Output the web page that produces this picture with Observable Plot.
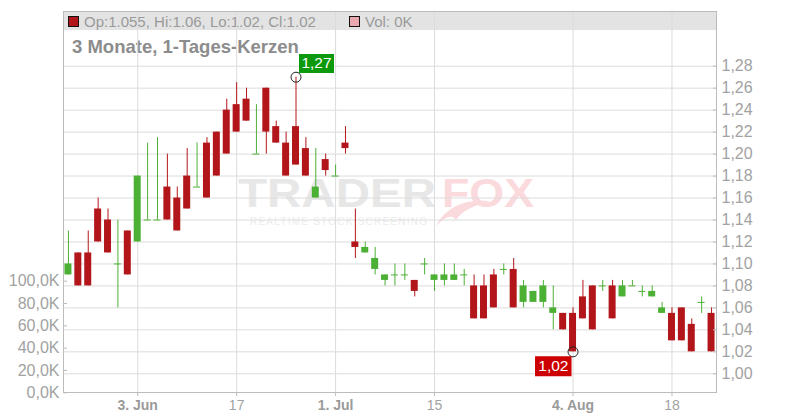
<!DOCTYPE html>
<html><head><meta charset="utf-8">
<script src="https://cdn.jsdelivr.net/npm/d3@7"></script>
<script src="https://cdn.jsdelivr.net/npm/@observablehq/plot@0.6"></script>
<style>
body{margin:0;background:#fff;font-family:"Liberation Sans",Arial,sans-serif;}
#wrap{position:relative;width:800px;height:420px;overflow:hidden;}
#wrap > svg{position:absolute;left:0;top:0;}
</style></head><body><div id="wrap"></div>
<script>
// ---- data ----
const dates = [
"2025-05-23","2025-05-26","2025-05-27","2025-05-28","2025-05-29","2025-05-30",
"2025-06-02","2025-06-03","2025-06-04","2025-06-05","2025-06-06",
"2025-06-09","2025-06-10","2025-06-11","2025-06-12","2025-06-13",
"2025-06-16","2025-06-17","2025-06-18","2025-06-19","2025-06-20",
"2025-06-23","2025-06-24","2025-06-25","2025-06-26","2025-06-27",
"2025-06-30","2025-07-01","2025-07-02","2025-07-03","2025-07-04",
"2025-07-07","2025-07-08","2025-07-09","2025-07-10","2025-07-11",
"2025-07-14","2025-07-15","2025-07-16","2025-07-17","2025-07-18",
"2025-07-21","2025-07-22","2025-07-23","2025-07-24","2025-07-25",
"2025-07-28","2025-07-29","2025-07-30","2025-07-31","2025-08-01",
"2025-08-04","2025-08-05","2025-08-06","2025-08-07","2025-08-08",
"2025-08-11","2025-08-12","2025-08-13","2025-08-14","2025-08-15",
"2025-08-18","2025-08-19","2025-08-20","2025-08-21","2025-08-22"];
const open = [1.09,1.11,1.11,1.15,1.14,1.10,1.13,1.12,1.14,1.14,1.17,1.16,1.18,1.17,1.21,1.22,1.24,1.245,1.25,1.20,1.26,1.225,1.21,1.225,1.205,1.16,1.195,1.18,1.21,1.12,1.11,1.095,1.085,1.09,1.09,1.085,1.10,1.085,1.085,1.085,1.09,1.08,1.08,1.09,1.095,1.095,1.065,1.065,1.065,1.055,1.055,1.055,1.07,1.08,1.08,1.08,1.07,1.08,1.075,1.07,1.055,1.055,1.06,1.045,1.065,1.055];
const high = [1.13,1.11,1.13,1.16,1.15,1.14,1.13,1.18,1.21,1.215,1.20,1.17,1.205,1.21,1.215,1.22,1.25,1.265,1.26,1.245,1.26,1.23,1.22,1.27,1.215,1.205,1.20,1.19,1.225,1.15,1.12,1.115,1.09,1.10,1.10,1.085,1.105,1.09,1.10,1.10,1.095,1.09,1.09,1.095,1.10,1.105,1.085,1.075,1.085,1.08,1.055,1.06,1.085,1.08,1.085,1.085,1.085,1.085,1.08,1.08,1.065,1.06,1.06,1.05,1.07,1.06];
const low = [1.09,1.08,1.08,1.12,1.11,1.06,1.09,1.12,1.14,1.14,1.14,1.13,1.15,1.17,1.16,1.18,1.20,1.22,1.23,1.20,1.20,1.21,1.18,1.19,1.18,1.16,1.18,1.18,1.20,1.105,1.11,1.09,1.08,1.08,1.085,1.07,1.09,1.075,1.08,1.085,1.08,1.05,1.05,1.06,1.09,1.06,1.06,1.065,1.06,1.04,1.04,1.02,1.05,1.04,1.075,1.05,1.07,1.08,1.07,1.07,1.055,1.03,1.03,1.02,1.055,1.02];
const close = [1.10,1.08,1.08,1.12,1.11,1.10,1.09,1.18,1.14,1.14,1.14,1.13,1.15,1.17,1.16,1.18,1.20,1.22,1.23,1.20,1.22,1.21,1.18,1.19,1.18,1.17,1.185,1.18,1.205,1.115,1.115,1.105,1.09,1.09,1.09,1.075,1.10,1.09,1.09,1.09,1.09,1.05,1.05,1.06,1.095,1.06,1.08,1.075,1.08,1.06,1.04,1.02,1.05,1.04,1.08,1.05,1.08,1.08,1.075,1.075,1.06,1.03,1.03,1.02,1.065,1.02];
const volume = [0,0,0,0,0,0,0,0,0,0,0,0,0,0,0,0,0,0,0,0,0,0,0,0,0,0,0,0,0,0,0,0,0,0,0,0,0,0,0,0,0,0,0,0,0,0,0,0,0,0,0,0,0,0,0,0,0,0,0,0,0,0,0,0,0,0];
const xTickDates = ["2025-06-03","2025-06-17","2025-07-01","2025-07-15","2025-08-04","2025-08-18"];
const xTickLabels = ["3. Jun","17","1. Jul","15","4. Aug","18"];
const priceTicks = [1.00,1.02,1.04,1.06,1.08,1.10,1.12,1.14,1.16,1.18,1.20,1.22,1.24,1.26,1.28];
const volumeTicks = [0,20000,40000,60000,80000,100000];
const chartTitle = "3 Monate, 1-Tages-Kerzen";

// ---- styles ----
const UP = "#4cb035", DOWN = "#b3161a";
const GRID = "#dcdcdc", AXIS = "#bcbcbc", LABEL = "#a2a2a2";

const rows = dates.map((d, i) => ({date: d, open: open[i], high: high[i], low: low[i], close: close[i], volume: volume[i], up: close[i] >= open[i]}));
const bodies = rows.filter(r => r.open !== r.close);
const dojis = rows.filter(r => r.open === r.close);
const hiI = d3.maxIndex(high), loI = d3.minIndex(low);
const fmtP = v => v.toFixed(2).replace(".", ",");
const fmtV = v => (v / 1000).toFixed(1).replace(".", ",") + "K";
const labelOf = new Map(xTickDates.map((d, i) => [d, xTickLabels[i]]));
const monthTicks = xTickDates.filter((d, i) => xTickLabels[i].includes("."));
const dayTicks = xTickDates.filter((d, i) => !xTickLabels[i].includes("."));
const box = (x0, y0, w, h) => ({draw(ctx) { ctx.moveTo(x0, y0); ctx.lineTo(x0 + w, y0); ctx.lineTo(x0 + w, y0 + h); ctx.lineTo(x0, y0 + h); ctx.closePath(); }});

const common = {width: 800, height: 420, marginTop: 11, marginBottom: 28, marginLeft: 63, marginRight: 84,
  style: {background: "transparent", fontFamily: "Liberation Sans, Arial, sans-serif"}};

// ---- decor (watermark, legend bar, title) ----
const decor = d3.create("svg").attr("width", 800).attr("height", 420);
decor.append("text").attr("x", 238).attr("y", 206.5).attr("font-size", 40).attr("font-weight", "bold")
  .attr("fill", "#e7e7e7").attr("textLength", 198).attr("lengthAdjust", "spacingAndGlyphs").text("TRADER");
decor.append("text").attr("x", 442).attr("y", 206.5).attr("font-size", 40).attr("font-weight", "bold")
  .attr("fill", "#fbdadd").attr("textLength", 92).attr("lengthAdjust", "spacingAndGlyphs").text("FOX");
decor.append("path").attr("d", "M436,226 C446,206 468,198 490,201 C474,205 462,211 456,220 C452,214 446,216 436,226 Z").attr("fill", "#fbdadd");
decor.append("text").attr("x", 250).attr("y", 225).attr("font-size", 10)
  .attr("fill", "#ececec").attr("textLength", 177).attr("lengthAdjust", "spacing").text("REALTIME STOCK SCREENING");
decor.append("rect").attr("x", 63).attr("y", 11).attr("width", 653).attr("height", 19).attr("fill", "#e3e3e3");
decor.append("rect").attr("x", 68.5).attr("y", 16.5).attr("width", 10).attr("height", 10).attr("fill", DOWN).attr("stroke", "#111");
const last = rows[rows.length - 1];
decor.append("text").attr("x", 84).attr("y", 26.5).attr("font-size", 15).attr("fill", "#9a9a9a")
  .text(`Op:${last.open}, Hi:${last.high}, Lo:${last.low}, Cl:${last.close}`);
decor.append("rect").attr("x", 349.5).attr("y", 16.5).attr("width", 10).attr("height", 10).attr("fill", "#eba7ae").attr("stroke", "#111");
decor.append("text").attr("x", 365).attr("y", 26.5).attr("font-size", 15).attr("fill", "#9a9a9a")
  .text(`Vol: ${last.volume / 1000}K`);
decor.append("text").attr("x", 72).attr("y", 53.3).attr("font-size", 18.5).attr("font-weight", "bold")
  .attr("fill", "#8c8c8c").text(chartTitle);

// ---- main price chart ----
const main = Plot.plot({
  ...common,
  x: {type: "band", domain: dates, padding: 0, align: 0.5},
  y: {type: "linear", domain: [1.00, 1.28], range: [373.3, 65.7]},
  marks: [
    Plot.gridY(priceTicks, {stroke: GRID, strokeOpacity: 1}),
    Plot.gridX(xTickDates, {stroke: GRID, strokeOpacity: 1}),
    Plot.frame({stroke: AXIS}),
    Plot.ruleX(rows, {x: "date", y1: "low", y2: "high", stroke: d => d.up ? UP : DOWN, strokeWidth: 1}),
    Plot.barY(bodies, {x: "date", y1: "open", y2: "close", fill: d => d.up ? UP : DOWN, insetLeft: 1.45, insetRight: 1.45}),
    Plot.tickY(dojis, {x: "date", y: "open", stroke: UP, strokeWidth: 1, insetLeft: 1.45, insetRight: 1.45}),
    Plot.dot([hiI], {x: i => dates[i], y: i => high[i], r: 5, stroke: "#222", fill: "none", strokeWidth: 1}),
    Plot.dot([loI], {x: i => dates[i], y: i => low[i], r: 5, stroke: "#222", fill: "none", strokeWidth: 1}),
    Plot.dot([hiI], {x: i => dates[i], y: i => high[i], symbol: box(3, -23.3, 35, 19), r: 1, fill: "#0c9a0c", stroke: null}),
    Plot.dot([loI], {x: i => dates[i], y: i => low[i], symbol: box(-38, 4.5, 36.5, 20), r: 1, fill: "#cc0000", stroke: null}),
    Plot.text([hiI], {x: i => dates[i], y: i => high[i], text: i => fmtP(high[i]), dx: 20.5, dy: -13.8, fill: "#fff", fontSize: 15.5}),
    Plot.text([loI], {x: i => dates[i], y: i => low[i], text: i => fmtP(low[i]), dx: -19.7, dy: 14.5, fill: "#fff", fontSize: 15.5}),
    Plot.axisY(priceTicks, {anchor: "right", tickSize: 4, dx: -4, tickPadding: 5, tickFormat: fmtP, color: LABEL, stroke: AXIS, fontSize: 16, label: null}),
    Plot.axisX(monthTicks, {anchor: "bottom", tickSize: 4, tickPadding: 4, tickFormat: d => labelOf.get(d), color: "#9a9a9a", stroke: AXIS, fontSize: 14, fontWeight: "bold", label: null}),
    Plot.axisX(dayTicks, {anchor: "bottom", tickSize: 4, tickPadding: 4, tickFormat: d => labelOf.get(d), color: LABEL, stroke: AXIS, fontSize: 14, label: null})
  ]
});

// ---- volume overlay (left axis) ----
const vol = Plot.plot({
  ...common,
  x: {type: "band", domain: dates, padding: 0, align: 0.5, axis: null},
  y: {type: "linear", domain: [0, 100000], range: [392.3, 280.7]},
  marks: [
    Plot.barY(rows, {x: "date", y: "volume", fill: "#eba7ae", insetLeft: 1.45, insetRight: 1.45}),
    Plot.axisY(volumeTicks, {anchor: "left", tickSize: 4, dx: 4, tickPadding: 4, tickFormat: fmtV, color: LABEL, stroke: AXIS, fontSize: 16, label: null})
  ]
});

const wrap = document.getElementById("wrap");
wrap.append(decor.node(), main, vol);
</script></body></html>
